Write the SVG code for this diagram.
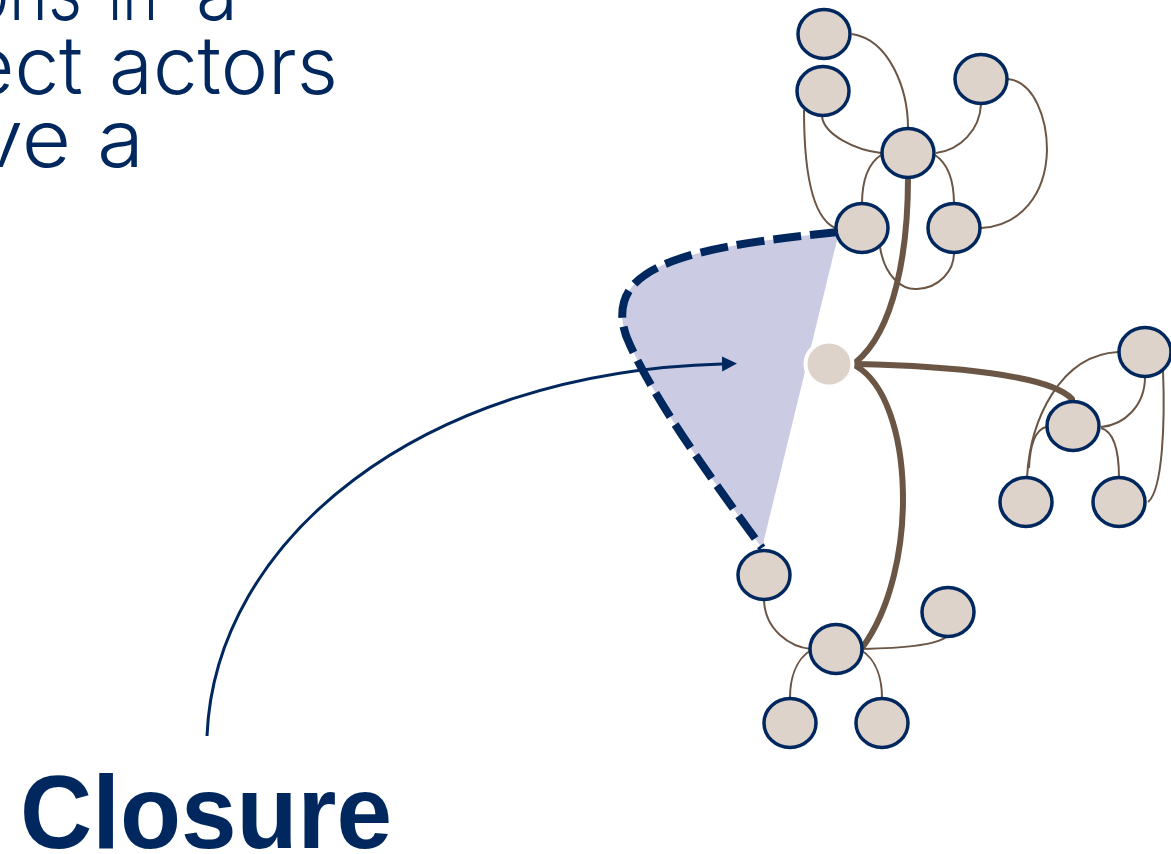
<svg xmlns="http://www.w3.org/2000/svg" width="1171" height="854" viewBox="0 0 1171 854">
<defs>
<style>
.txt{fill:#00285e;font-family:"Liberation Sans",Arial,sans-serif}
.light{font-family:Inter,"Liberation Sans",Arial,sans-serif;font-weight:300}
.node{fill:#ddd3ca;stroke:#00285e;stroke-width:3.5}
.thin{fill:none;stroke:#6b5646;stroke-width:2}
.thick{fill:none;stroke:#6b5646;stroke-width:6;stroke-linecap:round}
</style>
<marker id="ah" markerUnits="userSpaceOnUse" markerWidth="16" markerHeight="16" refX="0" refY="7.5" orient="auto">
<path d="M0,0 L15,7.5 L0,15 Z" fill="#00285e"/>
</marker>
</defs>
<rect width="1171" height="854" fill="#ffffff"/>
<g id="text-top" class="txt light" font-size="80">
<text x="-30" y="20" textLength="112" lengthAdjust="spacingAndGlyphs">ons</text>
<text x="108" y="20" textLength="50" lengthAdjust="spacingAndGlyphs">in</text>
<text x="196" y="20" textLength="42" lengthAdjust="spacingAndGlyphs">a</text>
<text x="-32" y="94" textLength="115" lengthAdjust="spacingAndGlyphs">ect</text>
<text x="109" y="94" textLength="229" lengthAdjust="spacingAndGlyphs">actors</text>
<text x="-24" y="167" textLength="95" lengthAdjust="spacingAndGlyphs">ve</text>
<text x="97" y="167" textLength="47" lengthAdjust="spacingAndGlyphs">a</text>
</g>
<g id="shade">
<path d="M838,232 C760,240 680,250 645,275 C615,295 620,325 630,345 C660,410 720,490 762,548 L838,236 Z" fill="#cbcce4"/>
</g>
<g id="connectors">
<path class="thin" d="M852,34 C890,40 908,90 908,128"/>
<path class="thin" d="M822,117 C825,135 855,150 881,153"/>
<path class="thin" d="M804,110 C804,180 815,222 838,229"/>
<path class="thin" d="M881,155 C866,165 862,185 862,204"/>
<path class="thin" d="M935,155 C950,165 954,185 954,204"/>
<path class="thin" d="M981,104 C980,130 960,150 936,153"/>
<path class="thin" d="M1008,79 C1035,82 1047,120 1047,150 C1046,195 1020,226 981,228"/>
<path class="thin" d="M880,247 C885,278 903,290 917,289 C940,288 954,270 954,253"/>
<path class="thin" d="M1118,352 C1060,355 1030,420 1027,478"/>
<path class="thin" d="M1145,377 C1145,405 1125,425 1101,427"/>
<path class="thin" d="M1163,370 C1165,420 1163,490 1148,502"/>
<path class="thin" d="M1046,427 C1035,430 1030,445 1029,468"/>
<path class="thin" d="M1101,428 C1115,432 1119,455 1119,478"/>
<path class="thin" d="M764,600 C765,630 790,647 811,649"/>
<path class="thin" d="M811,650 C795,660 790,680 790,698"/>
<path class="thin" d="M861,650 C877,660 882,680 882,698"/>
<path class="thin" d="M862,649 C900,648 935,646 948,636"/>
<path class="thick" d="M908,178 C908,250 895,330 856,362"/>
<path class="thick" d="M856,364 C950,366 1050,375 1072,399"/>
<path class="thick" d="M856,366 C915,400 920,570 862,648"/>
<path d="M838,232 C760,240 680,250 645,275 C615,295 620,325 630,345 C660,410 720,490 762,548" fill="none" stroke="#00285e" stroke-width="8" stroke-dasharray="28 9"/>
<path d="M207,736 C215,540 420,372 722,364" fill="none" stroke="#00285e" stroke-width="3" marker-end="url(#ah)"/>
</g>
<g id="n-a"><ellipse class="node" cx="824" cy="34" rx="26" ry="24.5"/></g>
<g id="n-b"><ellipse class="node" cx="823" cy="91" rx="26" ry="24.5"/></g>
<g id="n-c"><ellipse class="node" cx="981" cy="79" rx="26" ry="24.5"/></g>
<g id="n-d"><ellipse class="node" cx="908" cy="153" rx="26" ry="24.5"/></g>
<g id="n-e"><ellipse class="node" cx="862" cy="228" rx="26" ry="24.5"/></g>
<g id="n-f"><ellipse class="node" cx="954" cy="228" rx="26" ry="24.5"/></g>
<g id="n-center"><ellipse cx="829" cy="364" rx="23.5" ry="22.5" fill="#ddd3ca" stroke="#ffffff" stroke-width="4"/></g>
<g id="n-g"><ellipse class="node" cx="1145" cy="352" rx="26" ry="24.5"/></g>
<g id="n-h"><ellipse class="node" cx="1073" cy="426" rx="26" ry="24.5"/></g>
<g id="n-i"><ellipse class="node" cx="1026" cy="502" rx="26" ry="24.5"/></g>
<g id="n-j"><ellipse class="node" cx="1119" cy="502" rx="26" ry="24.5"/></g>
<g id="n-k"><ellipse class="node" cx="764" cy="575" rx="26" ry="24.5"/></g>
<g id="n-l"><ellipse class="node" cx="836" cy="649" rx="26" ry="24.5"/></g>
<g id="n-m"><ellipse class="node" cx="948" cy="612" rx="26" ry="24.5"/></g>
<g id="n-n"><ellipse class="node" cx="790" cy="723" rx="26" ry="24.5"/></g>
<g id="n-o"><ellipse class="node" cx="882" cy="723" rx="26" ry="24.5"/></g>
<g id="label-closure"><text class="txt" x="20" y="848" font-size="104" font-weight="bold" textLength="372" lengthAdjust="spacingAndGlyphs">Closure</text></g>
</svg>
